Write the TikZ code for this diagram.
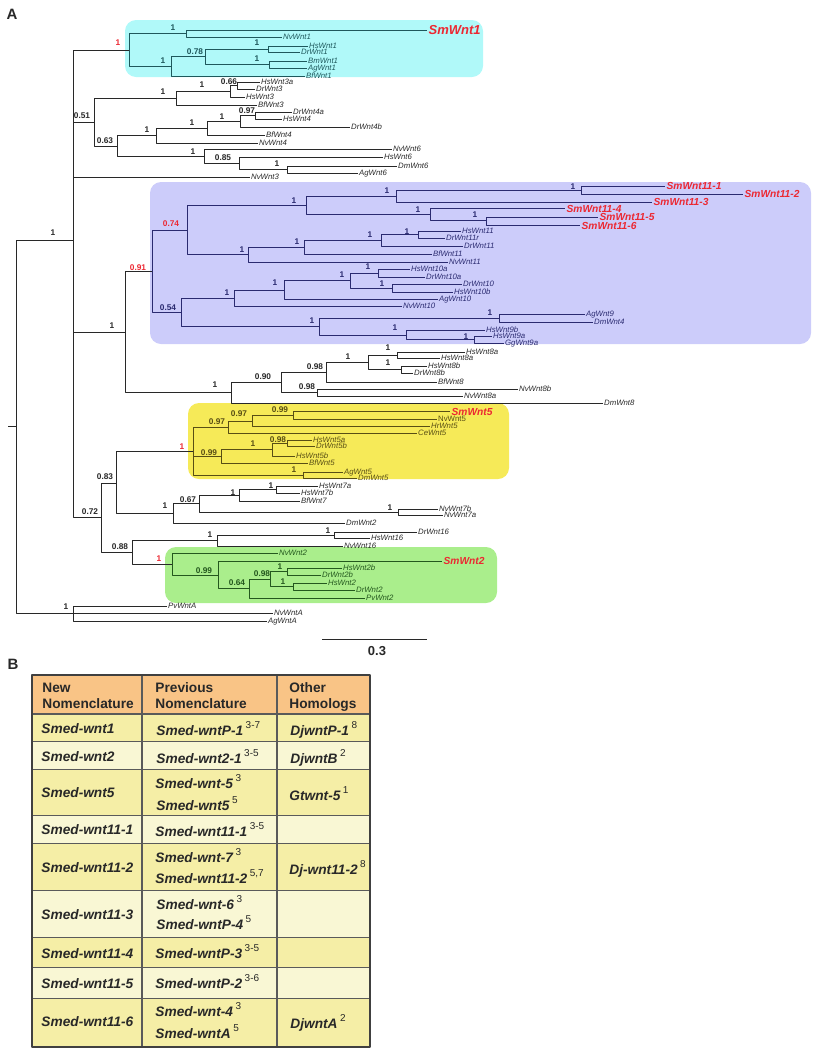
\documentclass[tikz,border=0pt]{standalone}
\usepackage{fontspec}
\setmainfont{Liberation Sans}
\definecolor{smred}{RGB}{236,40,50}
\definecolor{cyanbox}{RGB}{176,249,249}
\definecolor{purpbox}{RGB}{204,204,250}
\definecolor{yelbox}{RGB}{246,234,88}
\definecolor{grnbox}{RGB}{170,238,140}
\definecolor{cyanink}{RGB}{30,88,92}
\definecolor{purpink}{RGB}{42,42,112}
\definecolor{yelink}{RGB}{88,78,20}
\definecolor{grnink}{RGB}{36,88,30}
\definecolor{treeink}{RGB}{40,40,40}
\definecolor{hdrfill}{RGB}{249,196,134}
\definecolor{rowdark}{RGB}{245,238,166}
\definecolor{rowlight}{RGB}{249,247,212}
\definecolor{tline}{RGB}{90,90,90}
\newcommand{\refmk}[1]{\hspace{2.5pt}\raisebox{6.5pt}{\fontsize{10}{10}\selectfont\mdseries\upshape #1}}
\tikzset{
  leaf/.style={anchor=west, inner sep=0.7pt, text height=5.6pt, text depth=0pt, font=\fontsize{7.8}{9}\selectfont\itshape},
  smlab/.style={anchor=west, inner sep=1.2pt, text height=7.3pt, text depth=0pt, text=smred, font=\fontsize{10.2}{12}\selectfont\bfseries\itshape},
  bsup/.style={inner sep=0pt, font=\fontsize{8.3}{9}\selectfont\bfseries},
  rsup/.style={bsup, text=smred},
  clbox/.style={rounded corners=11pt},
  panel/.style={inner sep=0pt, font=\fontsize{15}{16}\selectfont\bfseries},
  tcell/.style={anchor=base west, inner sep=0pt, font=\fontsize{13.7}{15}\selectfont\bfseries\itshape},
  thead/.style={anchor=base west, inner sep=0pt, font=\fontsize{13.7}{15}\selectfont\bfseries},
  tgrid/.style={draw=tline, line width=1.1pt}
}
\begin{document}
\begin{tikzpicture}[x=1pt, y=-1pt, line width=0.9pt, line join=round, color=treeink]
\useasboundingbox (0,0) rectangle (816,1050);
\node[panel] (pA) at (12,14) {A};
\node[panel] (pB) at (13,664) {B};
% clade boxes
\fill[cyanbox, clbox] (125,20) rectangle (483,77);
\fill[purpbox, clbox] (150,182) rectangle (811,344);
\fill[yelbox, clbox] (188,403) rectangle (509,479);
\fill[grnbox, clbox] (165,547) rectangle (497,603);
% tree
\coordinate (root) at (16,426.5);
\coordinate (rootstem) at (8,426.5);
\draw (rootstem) -- (root);
\foreach \nm/\x/\y/\p in {n73/73/240/root, nA/73/613/root, w051/94/122/n73, q1/125/332/n73, n072/101/517.5/n73,
  w3/176/98/w051, w063/117/146/w051, w3b/230/91/w3, w3a/237/85.5/w3b, w4a/156/135.5/w063, w6a/204/156/w063,
  w4b/207/128/w4a, w4c/240/121.25/w4b, w4d/255/115.5/w4c, w6b/239/163/w6a, w6c/287/169.5/w6b,
  q8/231/392.5/q1, q8a/281/382/q8, q8b/326/372/q8a, q8c/317/392.5/q8a, q8d/368/362/q8b, q8e/397/355/q8d, q8f/401/369.5/q8d,
  y083/116/483/n072, n088/132/552/n072, w7/173/513/y083, w7a/199/503.5/w7, w7b/239/495/w7a, w7d/276/489.5/w7b, w7c/398/512/w7a,
  w16/217/540.5/n088, w16a/334/535/w16, c0/129/50/n73, p091/152/271/q1, y0/193/451/y083, g0/172/564/n088}
  {\coordinate (\nm) at (\x,\y); \draw (\p) |- (\nm);}
\foreach \nm/\x/\y/\p in {NvWnt3/250/177/n73, HsWnt3a/260/82/w3a, DrWnt3/255/89/w3a, HsWnt3/245/97/w3b, BfWnt3/257/105/w3,
  DrWnt4a/292/112/w4d, HsWnt4/282/119/w4d, DrWnt4b/350/127/w4c, BfWnt4/265/135/w4b, NvWnt4/258/143/w4a,
  NvWnt6/392/149/w6a, HsWnt6/383/157/w6b, DmWnt6/397/166/w6c, AgWnt6/358/173/w6c,
  HsWnt8a/465/352/q8e, HsWnt8b/427/366/q8f, DrWnt8b/413/373/q8f, BfWnt8/437/382/q8b, NvWnt8b/518/389/q8c,
  NvWnt8a/463/396/q8c, DmWnt8/603/403/q8, HsWnt7a/318/486/w7d, HsWnt7b/300/493/w7d, BfWnt7/300/501/w7b,
  NvWnt7b/438/509/w7c, NvWnt7a/443/515/w7c, DmWnt2/345/523/w7, DrWnt16/417/532/w16a, HsWnt16/370/538/w16a,
  NvWnt16/343/546/w16, PvWntA/167/606/nA, NvWntA/273/613/nA, AgWntA/267/621/nA}
  {\node[leaf] (\nm) at (\x,\y) {\nm}; \draw (\p) |- (\nm.west);}
\node[leaf] (HsWnt8aB) at (440,358) {HsWnt8a};
\draw (q8e) |- (HsWnt8aB.west);
\foreach \x/\y/\v [count=\i] in {53/233/1, 66/607/1, 82/116/0.51, 105/141/0.63, 163/92/1, 202/85/1, 229/81.5/0.66,
  147/130/1, 192/123/1, 222/117/1, 247/111/0.97, 193/152/1, 223/158/0.85, 277/164/1, 112/326/1, 215/385/1,
  263/377/0.90, 315/367/0.98, 348/357/1, 388/348/1, 388/363/1, 307/387/0.98, 105/477/0.83, 90/512/0.72,
  120/547/0.88, 165/506/1, 188/500/0.67, 233/493/1, 271/486/1, 390/508/1, 210/535/1, 328/531/1}
  \node[bsup] (sb\i) at (\x,\y) {\v};
% cyan clade
\begin{scope}[color=cyanink]
\foreach \nm/\x/\y/\p in {c11/186/33.5/c0, c2/171/66.4/c0, c078/205/56.75/c2, cHD/268/49/c078, cBA/269/64.5/c078}
  {\coordinate (\nm) at (\x,\y); \draw (\p) |- (\nm);}
\foreach \nm/\x/\y/\p in {NvWnt1/282/37/c11, HsWnt1/308/46/cHD, DrWnt1/300/52/cHD, BmWnt1/307/61/cBA,
  AgWnt1/307/68/cBA, BfWnt1/305/76/c2}
  {\node[leaf] (\nm) at (\x,\y) {\nm}; \draw (\p) |- (\nm.west);}
\foreach \x/\y/\v [count=\i] in {173/28/1, 163/61/1, 195/52/0.78, 257/43/1, 257/59/1}
  \node[bsup] (sc\i) at (\x,\y) {\v};
\node[smlab, font=\fontsize{13}{14}\selectfont\bfseries\itshape, text height=9.3pt] (SmWnt1) at (427,30) {SmWnt1};
\draw (c11) |- (SmWnt1.west);
\end{scope}
% purple clade
\begin{scope}[color=purpink]
\foreach \nm/\x/\y/\p in {p074/187/230/p091, p054/181/312.25/p091, pA/306/205.4/p074, pB/248/254.5/p074,
  pA1/396/196/pA, pA1a/581/190/pA1, pA2/430/214.75/pA, pA2b/486/220.5/pA2, pB1/304/247/pB, pB1a/381/240/pB1,
  pB1b/418/234.5/pB1a, pC/234/298/p054, pC1/284/290/pC, pC2/350/280.5/pC1, pC3/378/273/pC2, pC4/392/288/pC2,
  pD/319/326.5/p054, pD1/499/318/pD, pD2/406/335/pD, pD3/474/339.5/pD2}
  {\coordinate (\nm) at (\x,\y); \draw (\p) |- (\nm);}
\foreach \nm/\x/\y/\p in {HsWnt11/461/231/pB1b, DrWnt11r/445/238/pB1b, DrWnt11/463/246/pB1a, BfWnt11/432/254/pB1,
  NvWnt11/448/262/pB, HsWnt10a/410/269/pC3, DrWnt10a/425/277/pC3, DrWnt10/462/284/pC4, HsWnt10b/453/292/pC4,
  AgWnt10/438/299/pC1, NvWnt10/402/306/pC, AgWnt9/585/314/pD1, DmWnt4/593/322/pD1, HsWnt9b/485/330/pD2,
  HsWnt9a/492/336/pD3, GgWnt9a/504/343/pD3}
  {\node[leaf] (\nm) at (\x,\y) {\nm}; \draw (\p) |- (\nm.west);}
\foreach \nm/\x/\y/\p in {SmWnt11-1/665/186/pA1a, SmWnt11-2/743/194/pA1a, SmWnt11-3/652/202/pA1,
  SmWnt11-4/565/208.5/pA2, SmWnt11-5/598/217/pA2b, SmWnt11-6/580/225.5/pA2b}
  {\node[smlab] (\nm) at (\x,\y) {\nm}; \draw (\p) |- (\nm.west);}
\foreach \x/\y/\v [count=\i] in {294/201/1, 387/191/1, 573/187/1, 418/210/1, 475/215/1, 242/250/1, 297/242/1,
  370/235/1, 407/232/1, 168/308/0.54, 227/293/1, 275/283/1, 342/275/1, 368/267/1, 382/284/1, 312/321/1,
  490/313/1, 395/328/1, 466/337/1}
  \node[bsup] (sp\i) at (\x,\y) {\v};
\end{scope}
% yellow clade
\begin{scope}[color=yelink]
\foreach \nm/\x/\y/\p in {yA/228/427/y0, yA1/252/421/yA, yA2/293/415.5/yA1, yB/221/456/y0, yB1/272/449.5/yB,
  yB2/287/443/yB1, yC/303/475/y0}
  {\coordinate (\nm) at (\x,\y); \draw (\p) |- (\nm);}
\foreach \nm/\x/\y/\p in {HrWnt5/430/426/yA1, CeWnt5/417/433/yA, HsWnt5a/312/440/yB2, DrWnt5b/315/446/yB2,
  HsWnt5b/295/456/yB1, BfWnt5/308/463/yB, AgWnt5/343/472/yC, DmWnt5/357/478/yC}
  {\node[leaf] (\nm) at (\x,\y) {\nm}; \draw (\p) |- (\nm.west);}
\node[leaf, font=\fontsize{7.8}{9}\selectfont\upshape] (NvWnt5) at (437,419) {NvWnt5};
\draw (yA2) |- (NvWnt5.west);
\node[smlab] (SmWnt5) at (450,411.5) {SmWnt5};
\draw (yA2) |- (SmWnt5.west);
\foreach \x/\y/\v [count=\i] in {217/422/0.97, 239/414/0.97, 280/410/0.99, 209/453/0.99, 253/444/1, 278/440/0.98, 294/470/1}
  \node[bsup] (sy\i) at (\x,\y) {\v};
\end{scope}
% green clade
\begin{scope}[color=grnink]
\foreach \nm/\x/\y/\p in {g1/218/575/g0, g2/249/588.5/g1, g3/270/579/g2, g4/287/571.5/g3, g5/293/586.5/g3}
  {\coordinate (\nm) at (\x,\y); \draw (\p) |- (\nm);}
\foreach \nm/\x/\y/\p in {NvWnt2/278/553/g0, HsWnt2b/342/568/g4, DrWnt2b/321/575/g4, HsWnt2/327/583/g5,
  DrWnt2/355/590/g5, PvWnt2/365/598/g2}
  {\node[leaf] (\nm) at (\x,\y) {\nm}; \draw (\p) |- (\nm.west);}
\node[smlab] (SmWnt2) at (442,561) {SmWnt2};
\draw (g1) |- (SmWnt2.west);
\foreach \x/\y/\v [count=\i] in {204/571/0.99, 237/583/0.64, 262/574/0.98, 280/567/1, 283/582/1}
  \node[bsup] (sg\i) at (\x,\y) {\v};
\end{scope}
% red supports
\foreach \x/\y/\v [count=\i] in {118/43/1, 138/268/0.91, 171/224/0.74, 182/447/1, 159/559/1}
  \node[rsup] (sr\i) at (\x,\y) {\v};
% scale bar
\coordinate (sclA) at (322,639);
\coordinate (sclB) at (427,639);
\draw (sclA) -- (sclB);
\node[inner sep=0pt, font=\fontsize{13}{14}\selectfont\bfseries] (scl) at (377,651) {0.3};
% table
\fill[hdrfill] (32,675) rectangle (370,714);
\foreach \ya/\yb/\c in {714/741.7/rowdark, 741.7/769.3/rowlight, 769.3/815.7/rowdark, 815.7/843.3/rowlight,
  843.3/890.7/rowdark, 890.7/937.7/rowlight, 937.7/967.3/rowdark, 967.3/998.3/rowlight, 998.3/1046.7/rowdark}
  \fill[\c] (32,\ya) rectangle (370,\yb);
\foreach \y in {714, 741.7, 769.3, 815.7, 843.3, 890.7, 937.7, 967.3, 998.3}
  \draw[tgrid] (32,\y) -- (370,\y);
\foreach \x in {142, 277}
  \draw[tgrid] (\x,675) -- (\x,1046.7);
\draw[tgrid, draw=black!75, line width=1.8pt] (32,675) rectangle (370,1046.7);
\foreach \x/\y/\t [count=\i] in {42/692/New, 42/708/Nomenclature, 155/692/Previous, 155/708/Nomenclature,
  289/692/Other, 289/708/Homologs}
  \node[thead] (th\i) at (\x,\y) {\t};
\foreach \x/\y/\t [count=\i] in {41/733/Smed-wnt1, 41/761/Smed-wnt2, 41/797/Smed-wnt5, 41/834/Smed-wnt11-1,
  41/872/Smed-wnt11-2, 41/919/Smed-wnt11-3, 41/958/Smed-wnt11-4, 41/988/Smed-wnt11-5, 41/1026/Smed-wnt11-6}
  \node[tcell] (ta\i) at (\x,\y) {\t};
\foreach \x/\y/\t [count=\i] in {156/735/{Smed-wntP-1\refmk{3-7}}, 156/763/{Smed-wnt2-1\refmk{3-5}},
  155/788/{Smed-wnt-5\refmk{3}}, 156/810/{Smed-wnt5\refmk{5}}, 155/836/{Smed-wnt11-1\refmk{3-5}},
  155/862/{Smed-wnt-7\refmk{3}}, 155/883/{Smed-wnt11-2\refmk{5,7}}, 156/909/{Smed-wnt-6\refmk{3}},
  156/929/{Smed-wntP-4\refmk{5}}, 155/958/{Smed-wntP-3\refmk{3-5}}, 155/988/{Smed-wntP-2\refmk{3-6}},
  155/1016/{Smed-wnt-4\refmk{3}}, 155/1038/{Smed-wntA\refmk{5}}}
  \node[tcell] (tb\i) at (\x,\y) {\t};
\foreach \x/\y/\t [count=\i] in {290/735/{DjwntP-1\refmk{8}}, 290/763/{DjwntB\refmk{2}}, 289/800/{Gtwnt-5\refmk{1}},
  289/874/{Dj-wnt11-2\refmk{8}}, 290/1028/{DjwntA\refmk{2}}}
  \node[tcell] (tc\i) at (\x,\y) {\t};
\end{tikzpicture}
\end{document}
